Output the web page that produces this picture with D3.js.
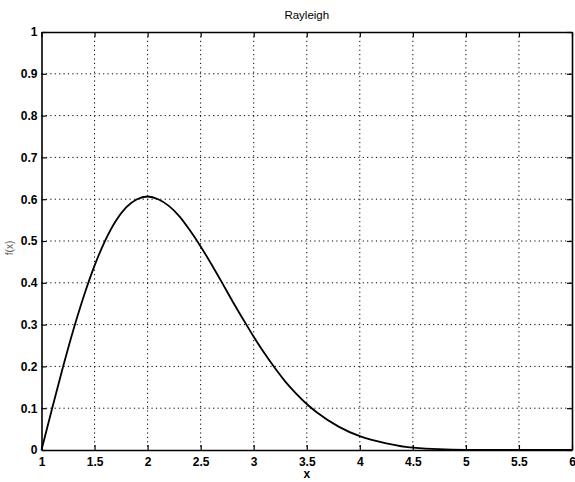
<!DOCTYPE html>
<html>
<head>
<meta charset="utf-8">
<script src="https://d3js.org/d3.v7.min.js"></script>
<style>
  body { margin: 0; background: #fff; }
  svg text { font-family: "Liberation Sans", Arial, sans-serif; }
</style>
</head>
<body>
<div id="chart"></div>
<script>
// Curve values
const xValues = [1, 1.1, 1.2, 1.3, 1.4, 1.5, 1.6, 1.7, 1.8, 1.9, 2, 2.1, 2.2, 2.3, 2.4, 2.5, 2.6, 2.7, 2.8, 2.9,
                 3, 3.1, 3.2, 3.3, 3.4, 3.5, 3.6, 3.8, 4, 4.25, 4.5, 5, 5.5, 6];
const yValues = [0, 0.0995, 0.196, 0.287, 0.369, 0.441, 0.501, 0.548, 0.581, 0.600, 0.6065, 0.600, 0.584, 0.559, 0.525, 0.487, 0.445, 0.401, 0.356, 0.313,
                 0.271, 0.232, 0.196, 0.163, 0.135, 0.110, 0.089, 0.056, 0.033, 0.016, 0.0055, 0.0003, 0, 0];
const xTicks = [1, 1.5, 2, 2.5, 3, 3.5, 4, 4.5, 5, 5.5, 6];
const yTicks = [0, 0.1, 0.2, 0.3, 0.4, 0.5, 0.6, 0.7, 0.8, 0.9, 1];
const title = "Rayleigh";
const xLabel = "x";
const yLabel = "f(x)";

const W = 575, H = 482;
const margin = { top: 32, right: 3, bottom: 32, left: 41.5 };
const width = W - margin.left - margin.right;
const height = H - margin.top - margin.bottom;

const svg = d3.select("#chart").append("svg")
    .attr("width", W)
    .attr("height", H);

const g = svg.append("g")
    .attr("transform", `translate(${margin.left},${margin.top})`);

const x = d3.scaleLinear().domain([1, 6]).range([0, width]);
const y = d3.scaleLinear().domain([0, 1]).range([height, 0]);

// dotted grid
g.append("g").selectAll("line")
    .data(xTicks.slice(1, -1))
    .join("line")
    .attr("x1", d => x(d)).attr("x2", d => x(d))
    .attr("y1", 0).attr("y2", height)
    .attr("stroke", "#000").attr("stroke-width", 1)
    .attr("stroke-dasharray", "1.2,3.2");
g.append("g").selectAll("line")
    .data(yTicks.slice(1, -1))
    .join("line")
    .attr("y1", d => y(d)).attr("y2", d => y(d))
    .attr("x1", 0).attr("x2", width)
    .attr("stroke", "#000").attr("stroke-width", 1)
    .attr("stroke-dasharray", "1.2,3.2");

// axes with inward ticks
g.append("g")
    .attr("transform", `translate(0,${height})`)
    .call(d3.axisBottom(x).tickValues(xTicks).tickFormat(d3.format("")).tickSizeInner(-5).tickSizeOuter(0).tickPadding(7));
g.append("g")
    .call(d3.axisLeft(y).tickValues(yTicks).tickFormat(d3.format("")).tickSizeInner(-5).tickSizeOuter(0).tickPadding(4));
g.append("g")
    .call(d3.axisTop(x).tickValues(xTicks).tickFormat("").tickSizeInner(-5).tickSizeOuter(0));
g.append("g")
    .attr("transform", `translate(${width},0)`)
    .call(d3.axisRight(y).tickValues(yTicks).tickFormat("").tickSizeInner(-5).tickSizeOuter(0));

g.selectAll(".domain").attr("stroke", "#000").attr("stroke-width", 1.6);
g.selectAll(".tick line").attr("stroke", "#000").attr("stroke-width", 1.2);
g.selectAll(".tick text")
    .attr("fill", "#000")
    .style("font-size", "12px")
    .style("font-weight", "bold")
    .style("font-family", "'Liberation Sans', Arial, sans-serif");

// curve
const pts = xValues.map((v, i) => [v, yValues[i]]);
const line = d3.line()
    .x(d => x(d[0]))
    .y(d => y(d[1]))
    .curve(d3.curveMonotoneX);
g.append("path")
    .datum(pts)
    .attr("fill", "none")
    .attr("stroke", "#000")
    .attr("stroke-width", 1.8)
    .attr("d", line);

// labels
svg.append("text")
    .attr("x", margin.left + width / 2)
    .attr("y", 19)
    .attr("text-anchor", "middle")
    .style("font-size", "11.5px")
    .text(title);

svg.append("text")
    .attr("x", margin.left + width / 2)
    .attr("y", 478)
    .attr("text-anchor", "middle")
    .style("font-size", "12px")
    .style("font-weight", "bold")
    .text(xLabel);

svg.append("text")
    .attr("transform", `translate(13,${margin.top + height / 2 + 7}) rotate(-90)`)
    .attr("text-anchor", "middle")
    .attr("fill", "#555")
    .style("font-size", "10px")
    .text(yLabel);
</script>
</body>
</html>
